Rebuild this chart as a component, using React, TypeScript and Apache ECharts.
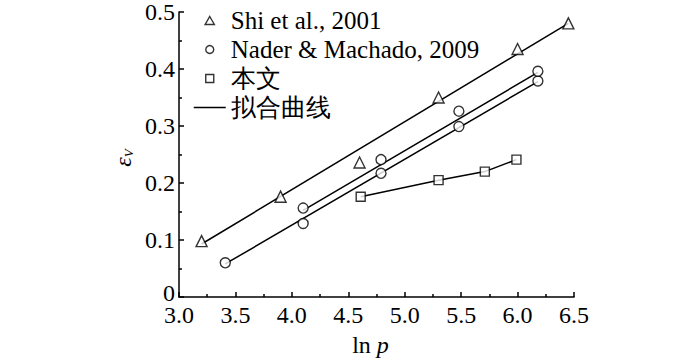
import React, { useEffect, useRef } from "react";
import * as echarts from "echarts";

const shiX = [3.2, 3.9, 4.6, 5.3, 6.0, 6.45];
const shiY = [0.098, 0.176, 0.236, 0.35, 0.435, 0.48];
const naderX = [3.41, 4.1, 4.79, 5.48, 6.18, 4.1, 4.79, 5.48, 6.18];
const naderY = [0.06, 0.129, 0.217, 0.299, 0.379, 0.156, 0.241, 0.326, 0.396];
const thisX = [4.61, 5.3, 5.71, 5.99];
const thisY = [0.176, 0.205, 0.22, 0.241];

const fitShiX = [3.2, 6.45];
const fitShiY = [0.093, 0.48];
const fitNaderLowX = [3.41, 6.18];
const fitNaderLowY = [0.058, 0.378];
const fitNaderHighX = [4.1, 6.18];
const fitNaderHighY = [0.152, 0.394];

const xTicks = { min: 3, max: 6.5, step: 0.5 };
const yTicks = { min: 0, max: 0.5, step: 0.1 };

const legendNames = ["Shi et al., 2001", "Nader & Machado, 2009", "本文", "拟合曲线"];

const zip = (xs: number[], ys: number[]) => xs.map((x, i) => [x, ys[i]]);

const FONT = "'Liberation Serif', 'Times New Roman', serif";
const txt = { fontFamily: FONT, fontSize: 24, color: "#000" };

export default function App() {
  const ref = useRef<HTMLDivElement>(null);
  useEffect(() => {
    document.body.style.margin = "0";
    if (!ref.current) return;
    const chart = echarts.init(ref.current, null, { renderer: "svg" });
    const scatterStyle = { color: "#fff", borderColor: "#000", borderWidth: 1.4 };
    const fitLine = (xs: number[], ys: number[]) => ({
      type: "line",
      name: "拟合曲线",
      data: zip(xs, ys),
      symbol: "none",
      lineStyle: { color: "#000", width: 1.5 },
      itemStyle: { color: "#000" },
      z: 2,
    });
    const legendItemStyle = { color: "#fff", borderColor: "#000", borderWidth: 1.4 };
    chart.setOption({
      animation: false,
      color: ["#000"],
      textStyle: { fontFamily: FONT, color: "#000" },
      grid: { left: 179, right: 126, top: 12, bottom: 63 },
      graphic: [
        {
          type: "text",
          x: 121,
          y: 158,
          rotation: Math.PI / 2,
          style: {
            text: "{e|ε}{s|V}",
            align: "center",
            verticalAlign: "middle",
            rich: {
              e: { fontFamily: FONT, fontSize: 24, fontStyle: "italic", fill: "#000", lineHeight: 28, verticalAlign: "bottom" },
              s: { fontFamily: FONT, fontSize: 13, fontStyle: "italic", fill: "#000", lineHeight: 28, verticalAlign: "bottom" },
            },
          },
        },
      ],
      legend: {
        data: [
          { name: legendNames[0], icon: "path://M5,0 L10,8.66 L0,8.66 Z", itemStyle: legendItemStyle },
          { name: legendNames[1], icon: "circle", itemStyle: legendItemStyle },
          { name: legendNames[2], icon: "path://M0,0 L10,0 L10,10 L0,10 Z", itemStyle: legendItemStyle },
          {
            name: legendNames[3],
            itemStyle: { color: "rgba(0,0,0,0)", borderColor: "rgba(0,0,0,0)", borderWidth: 0 },
            lineStyle: { color: "#000", width: 1.5 },
          },
        ],
        orient: "vertical",
        left: 188,
        top: 3,
        itemWidth: 32,
        itemHeight: 8,
        itemGap: 4,
        formatter: (n: string) => "{t|" + n + "}",
        textStyle: { ...txt, fontSize: 25, lineHeight: 24, rich: { t: { ...txt, fontSize: 25, lineHeight: 24 } } },
      },
      xAxis: {
        type: "value",
        min: xTicks.min,
        max: xTicks.max,
        interval: xTicks.step,
        name: "{a|ln }{b|p}",
        nameLocation: "middle",
        nameGap: 36,
        nameTextStyle: {
          padding: [0, 12, 0, 0],
          rich: {
            a: { ...txt },
            b: { ...txt, fontStyle: "italic" },
          },
        },
        axisLine: { lineStyle: { color: "#000", width: 1.5 } },
        axisTick: { inside: true, length: 5, lineStyle: { color: "#000", width: 1.5 } },
        minorTick: { show: true, splitNumber: 2, length: 3, lineStyle: { color: "#000", width: 1.5 } },
        axisLabel: {
          ...txt,
          margin: 9,
          formatter: (v: number) => "{t|" + v.toFixed(1) + "}",
          rich: { t: { ...txt, lineHeight: 18 } },
        },
        splitLine: { show: false },
      },
      yAxis: {
        type: "value",
        min: yTicks.min,
        max: yTicks.max,
        interval: yTicks.step,
        axisLine: { show: true, lineStyle: { color: "#000", width: 1.5 } },
        axisTick: { show: true, inside: true, length: 5, lineStyle: { color: "#000", width: 1.5 } },
        minorTick: { show: true, splitNumber: 2, length: 3, lineStyle: { color: "#000", width: 1.5 } },
        axisLabel: {
          ...txt,
          margin: 4,
          formatter: (v: number) => (v === 0 ? "{z|0}" : "{t|" + v.toFixed(1) + "}"),
          rich: {
            t: { ...txt, lineHeight: 20 },
            z: { ...txt, lineHeight: 8, padding: [0, 0, 9, 0] },
          },
        },
        splitLine: { show: false },
      },
      series: [
        fitLine(fitShiX, fitShiY),
        fitLine(fitNaderLowX, fitNaderLowY),
        fitLine(fitNaderHighX, fitNaderHighY),
        fitLine(thisX, thisY),
        {
          type: "scatter",
          name: legendNames[0],
          data: zip(shiX, shiY),
          symbol: "triangle",
          symbolSize: 11,
          itemStyle: scatterStyle,
          z: 3,
        },
        {
          type: "scatter",
          name: legendNames[1],
          data: zip(naderX, naderY),
          symbol: "circle",
          symbolSize: 10,
          itemStyle: scatterStyle,
          z: 3,
        },
        {
          type: "scatter",
          name: legendNames[2],
          data: zip(thisX, thisY),
          symbol: "rect",
          symbolSize: 9,
          itemStyle: scatterStyle,
          z: 3,
        },
      ],
    });
    return () => chart.dispose();
  }, []);
  return <div ref={ref} style={{ width: 700, height: 362 }} />;
}
